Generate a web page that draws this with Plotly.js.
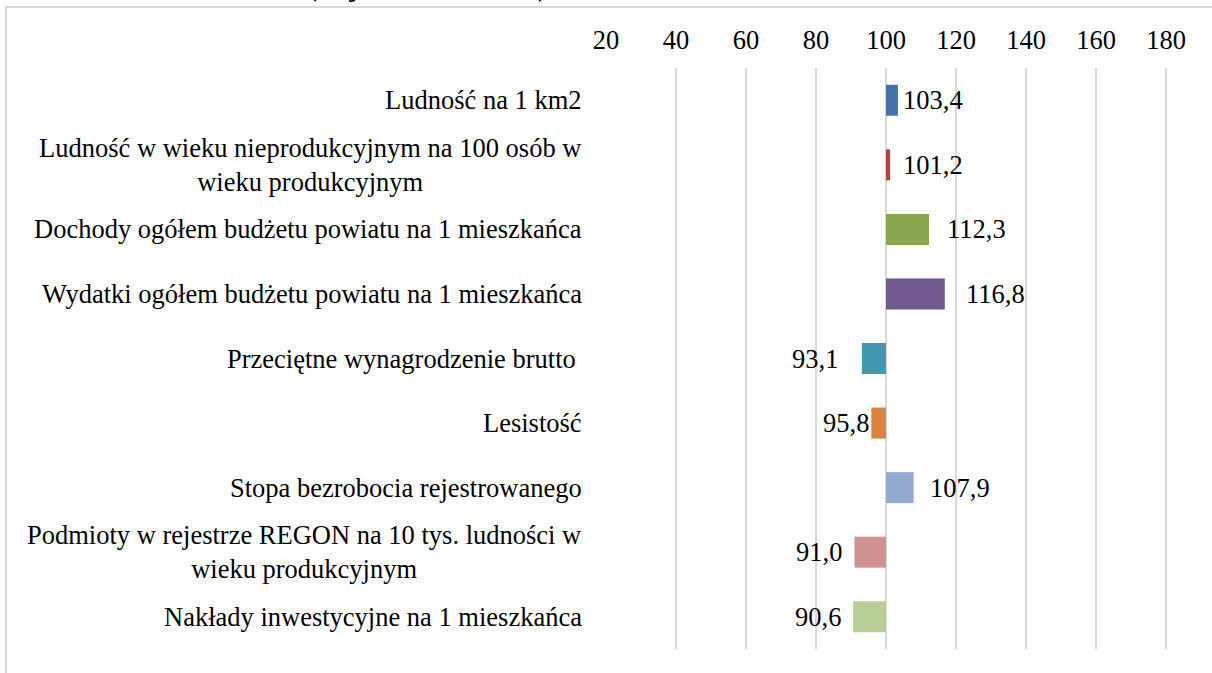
<!DOCTYPE html>
<html>
<head>
<meta charset="utf-8">
<script src="https://cdn.plot.ly/plotly-3.0.1.min.js"></script>
<style>
  html, body { margin: 0; padding: 0; background: #fff; }
  #chart { width: 1212px; height: 673px; }
</style>
</head>
<body>
<div id="chart"></div>
<script>
const categories = [
  'Ludność na 1 km2',
  'Ludność w wieku nieprodukcyjnym na 100 osób w<br>wieku produkcyjnym',
  'Dochody ogółem budżetu powiatu na 1 mieszkańca',
  'Wydatki ogółem budżetu powiatu na 1 mieszkańca',
  'Przeciętne wynagrodzenie brutto\u00a0',
  'Lesistość',
  'Stopa bezrobocia rejestrowanego',
  'Podmioty w rejestrze REGON na 10 tys. ludności w<br>wieku produkcyjnym',
  'Nakłady inwestycyjne na 1 mieszkańca'
];
const values = [103.4, 101.2, 112.3, 116.8, 93.1, 95.8, 107.9, 91.0, 90.6];
const valueLabels = ['103,4', '101,2', '112,3', '116,8', '93,1', '95,8', '107,9', '91,0', '90,6'];
const baseValue = 100;
const tickValues = [20, 40, 60, 80, 100, 120, 140, 160, 180];
const titleText = 'w 2016 roku (województwo = 100)';

// styles
const barColors = ['#4572A7', '#AA4643', '#89A54E', '#71588F', '#4198AF', '#DB843D', '#93A9CF', '#D19392', '#B9CD96'];
const labelGaps = [3, 11, 16, 19, 22, 0, 14, 11, 10];

const W = 1212, H = 673;
const margin = { l: 606, r: 18, t: 68, b: 24 };
const plotW = W - margin.l - margin.r;
const plotH = H - margin.t - margin.b;
const px2x = p => (p - margin.l) / plotW;
const px2y = p => (H - margin.b - p) / plotH;

const fontFamily = 'Liberation Serif, Times New Roman, serif';
const fontSize = 26.5;

const trace = {
  type: 'bar',
  orientation: 'h',
  y: categories,
  x: values.map(v => v - baseValue),
  base: baseValue,
  marker: { color: barColors },
  hoverinfo: 'skip',
  showlegend: false
};

const annotations = [];
categories.forEach((c, i) => {
  annotations.push({
    xref: 'paper', yref: 'y',
    x: 0, y: c,
    xanchor: 'right', yanchor: 'middle',
    xshift: -22,
    text: c,
    align: 'center',
    showarrow: false,
    font: { family: fontFamily, size: fontSize, color: '#000' }
  });
  const pos = values[i] >= baseValue;
  annotations.push({
    xref: 'x', yref: 'y',
    x: values[i], y: c,
    xanchor: pos ? 'left' : 'right', yanchor: 'middle',
    xshift: pos ? labelGaps[i] : -labelGaps[i],
    text: valueLabels[i],
    showarrow: false,
    font: { family: fontFamily, size: fontSize, color: '#000' }
  });
});
annotations.push({
  xref: 'paper', yref: 'paper',
  x: px2x(354), y: px2y(4),
  xanchor: 'center', yanchor: 'bottom',
  text: '<b>' + titleText + '</b>',
  showarrow: false,
  font: { family: fontFamily, size: fontSize, color: '#000' }
});

const layout = {
  width: W, height: H,
  margin: margin,
  paper_bgcolor: '#fff',
  plot_bgcolor: '#fff',
  bargap: 0.52,
  font: { family: fontFamily, size: fontSize, color: '#000' },
  xaxis: {
    side: 'top',
    range: [20, 188],
    tickvals: tickValues,
    ticktext: tickValues.map(String),
    showgrid: true,
    gridcolor: '#d9d9d9',
    gridwidth: 2,
    zeroline: false,
    showline: false,
    ticks: '',
    ticklabelstandoff: 13,
    tickfont: { family: fontFamily, size: fontSize, color: '#000' },
    fixedrange: true
  },
  yaxis: {
    type: 'category',
    categoryorder: 'array',
    categoryarray: categories,
    autorange: 'reversed',
    showticklabels: false,
    showgrid: false,
    zeroline: false,
    showline: false,
    ticks: '',
    fixedrange: true
  },
  annotations: annotations,
  shapes: [
    { type: 'line', xref: 'paper', yref: 'paper', x0: px2x(6), x1: px2x(6), y0: px2y(7), y1: px2y(700),
      line: { color: '#d9d9d9', width: 2 } },
    { type: 'line', xref: 'paper', yref: 'paper', x0: px2x(5), x1: px2x(1240), y0: px2y(7), y1: px2y(7),
      line: { color: '#d9d9d9', width: 2 } }
  ]
};

Plotly.newPlot('chart', [trace], layout, { displayModeBar: false, staticPlot: true });
</script>
</body>
</html>
